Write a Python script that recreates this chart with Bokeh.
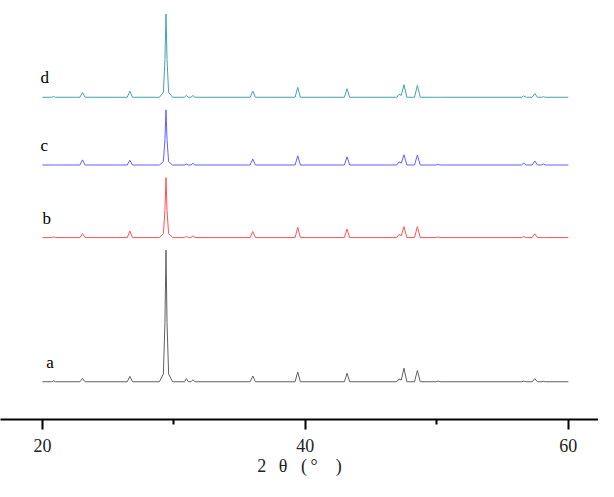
from bokeh.plotting import figure
from bokeh.models import Range1d, LinearAxis, FixedTicker, ColumnDataSource
from bokeh.embed import file_html
from bokeh.resources import INLINE
from bokeh.core.properties import value

# ---- data (2θ vertices, baseline-relative intensity, a.u.) ----
two_theta = [
    20.0,
    20.7, 20.85, 21.0,
    22.85, 23.05, 23.25,
    26.45, 26.65, 26.85,
    28.9, 29.2, 29.32, 29.4, 29.48, 29.6, 29.9,
    30.8, 30.95, 31.1,
    31.3, 31.45, 31.6,
    35.8, 36.0, 36.2,
    39.22, 39.42, 39.62,
    42.97, 43.17, 43.37,
    46.95, 47.12, 47.3, 47.5, 47.72,
    48.3, 48.52, 48.74,
    49.95, 50.1, 50.25,
    56.45, 56.6, 56.8,
    57.25, 57.45, 57.65,
    57.95, 58.1, 58.25,
    60.0,
]

int_a = [0,
         0, 1.0, 0,
         0, 3.5, 0,
         0, 5.6, 0,
         0, 8, 61, 136, 61, 8, 0,
         0, 3.2, 0,
         0, 2.1, 0,
         0, 6.0, 0,
         0, 10.2, 0,
         0, 8.8, 0,
         0, 2.8, 1.8, 14.0, 0,
         0, 11.6, 0,
         0, 0.7, 0,
         0, 0.7, 0,
         0, 3.2, 0,
         0, 0.4, 0,
         0]

int_b = [0,
         0, 0.7, 0,
         0, 4.2, 0,
         0, 6.7, 0,
         0, 4, 28, 62, 28, 4, 0,
         0, 1.4, 0,
         0, 1.8, 0,
         0, 6.3, 0,
         0, 10.6, 0,
         0, 8.8, 0,
         0, 3.2, 2.0, 11.3, 0,
         0, 11.3, 0,
         0, 0.7, 0,
         0, 1.0, 0,
         0, 3.9, 0,
         0, 0, 0,
         0]

int_c = [0,
         0, 0, 0,
         0, 5.3, 0,
         0, 4.9, 0,
         0, 3.5, 26, 57, 26, 3.5, 0,
         0, 1.0, 0,
         0, 1.8, 0,
         0, 6.3, 0,
         0, 9.5, 0,
         0, 8.5, 0,
         0, 3.2, 2.0, 10.6, 0,
         0, 10.2, 0,
         0, 0.7, 0,
         0, 2.1, 0,
         0, 4.2, 0,
         0, 1.0, 0,
         0]

int_d = [0,
         0, 0.7, 0,
         0, 4.9, 0,
         0, 6.3, 0,
         0, 5, 39, 86, 39, 5, 0,
         0, 2.0, 0,
         0, 1.8, 0,
         0, 6.3, 0,
         0, 10.2, 0,
         0, 8.8, 0,
         0, 3.0, 2.0, 13.0, 0,
         0, 12.3, 0,
         0, 0, 0,
         0, 1.4, 0,
         0, 3.9, 0,
         0, 0.5, 0,
         0]

sample_labels = ["a", "b", "c", "d"]
tick_values = [20, 40, 60]
minor_tick_values = [30, 50]
x_title = "2\u2002\u2009θ\u2002\u2005(\u2009°\u2003)"

# ---- presentation ----
offsets = [0, 149, 224, 294]
colors = ["#606060", "#ff5252", "#6060ff", "#45a5a5"]
label_x = [20.3, 20.0, 19.85, 19.85]
label_dy = 20

series = [int_a, int_b, int_c, int_d]

p = figure(width=598, height=481,
           x_range=Range1d(16.813, 62.295), y_range=Range1d(-39, 394),
           x_axis_type=None, y_axis_type=None,
           output_backend="svg", toolbar_location=None,
           min_border_left=0, min_border_right=0, min_border_top=0,
           min_border_bottom=62)
p.outline_line_color = None
p.background_fill_color = "white"
p.border_fill_color = "white"

for ys, off, col in zip(series, offsets, colors):
    p.line(two_theta, [v + off for v in ys], line_color=col, line_width=1,
           line_join="round")

src = ColumnDataSource(dict(x=label_x,
                            y=[o + label_dy for o in offsets],
                            t=sample_labels))
p.text(x="x", y="y", text="t", source=src,
       text_font=value("Liberation Serif"), text_font_size="17px",
       text_align="left", text_baseline="alphabetic", text_color="black")

xaxis = LinearAxis(ticker=FixedTicker(ticks=tick_values, minor_ticks=minor_tick_values),
                   axis_label=x_title)
xaxis.axis_line_color = "black"
xaxis.axis_line_width = 2
xaxis.major_tick_line_width = 2
xaxis.minor_tick_line_width = 2
xaxis.major_tick_in = 0
xaxis.major_tick_out = 10
xaxis.minor_tick_in = 0
xaxis.minor_tick_out = 5
xaxis.major_label_standoff = 9
xaxis.major_label_text_font = "Liberation Serif"
xaxis.major_label_text_font_size = "18px"
xaxis.major_label_text_color = "#222222"
xaxis.axis_label_standoff = 1
xaxis.axis_label_text_font = "Liberation Serif"
xaxis.axis_label_text_font_size = "18px"
xaxis.axis_label_text_font_style = "normal"
xaxis.axis_label_text_color = "#222222"
p.add_layout(xaxis, "below")

open("out.html", "w").write(file_html(p, INLINE))
